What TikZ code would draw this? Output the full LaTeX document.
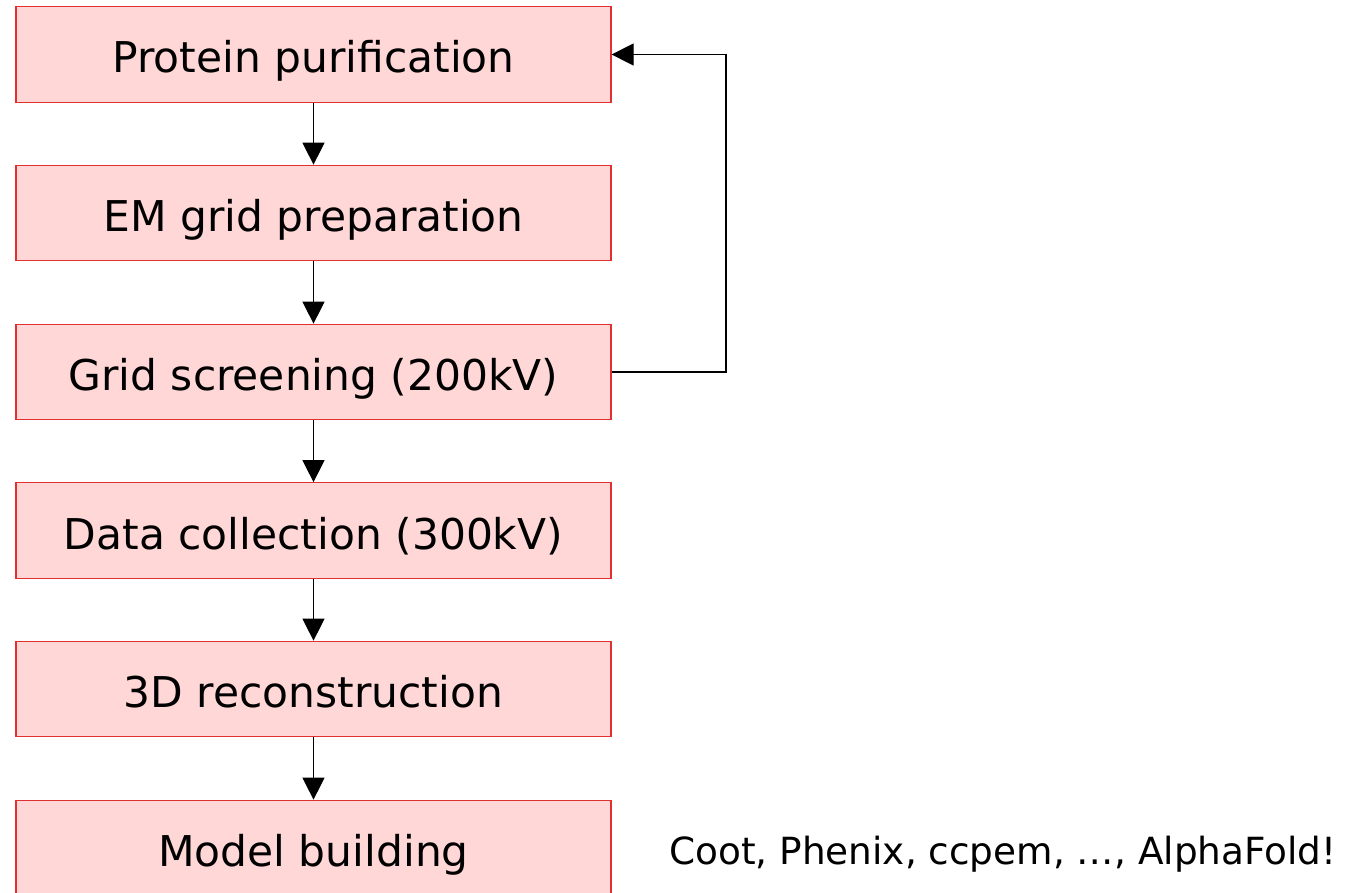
\documentclass[tikz,border=0pt]{standalone}
\usepackage{fontspec}
\setmainfont{DejaVu Sans}
\usetikzlibrary{arrows.meta}
\definecolor{boxfill}{HTML}{FFD7D7}
\definecolor{boxline}{HTML}{E03030}
\tikzset{
  stage/.style={draw=boxline, fill=boxfill, line width=1.2pt,
    minimum width=595pt, minimum height=95.5pt, inner sep=0pt,
    text height=37pt, text depth=0pt,
    font=\fontsize{42.4}{50}\selectfont},
  flow/.style={draw=black, line width=1.2pt,
    -{Triangle[length=22pt,width=22pt]}},
  note/.style={font=\fontsize{37.4}{44}\selectfont, anchor=base west, inner sep=0pt}
}
\begin{document}
\begin{tikzpicture}[x=1pt,y=-1pt]
\useasboundingbox (0,0) rectangle (1353,893);
\clip (0,0) rectangle (1353,893);
\node[stage] (s1) at (313.5,54.5)  {Protein purification};
\node[stage] (s2) at (313.5,213)   {EM grid preparation};
\node[stage] (s3) at (313.5,372)   {Grid screening (200kV)};
\node[stage] (s4) at (313.5,530.5) {Data collection (300kV)};
\node[stage] (s5) at (313.5,689)   {3D reconstruction};
\node[stage] (s6) at (313.5,848)   {Model building};
\node[note] (tools) at (669,864) {Coot, Phenix, ccpem, …, AlphaFold!};
\draw[flow] (s1) -- (s2);
\draw[flow] (s2) -- (s3);
\draw[flow] (s3) -- (s4);
\draw[flow] (s4) -- (s5);
\draw[flow] (s5) -- (s6);
\coordinate (loop) at (726,0);
\draw[flow] (s3.east) -- (s3.east -| loop) -- (s1.east -| loop) -- (s1.east);
\end{tikzpicture}
\end{document}
